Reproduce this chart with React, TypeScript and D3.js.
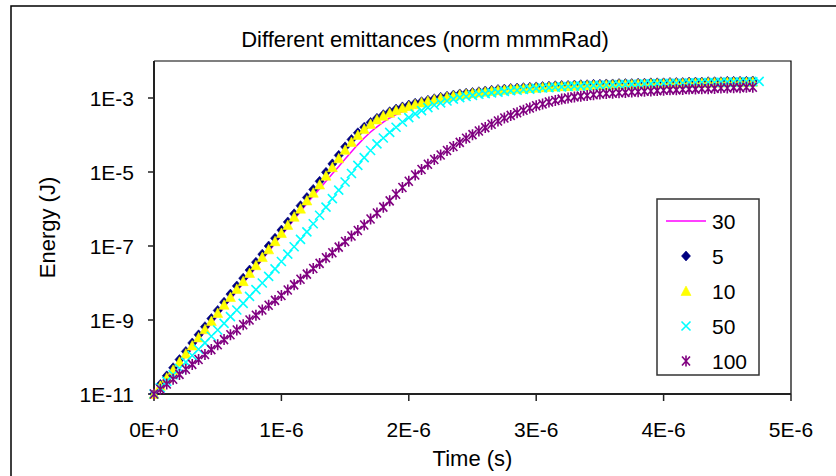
import * as d3 from "d3";

// time in microseconds (x axis shows seconds)
const timeUs = [
  0, 0.05, 0.1, 0.15, 0.2, 0.25, 0.3, 0.35, 0.4, 0.45, 0.5, 0.55, 0.6, 0.65, 0.7, 0.75, 0.8, 0.85, 0.9, 0.95,
  1, 1.05, 1.1, 1.15, 1.2, 1.25, 1.3, 1.35, 1.4, 1.45, 1.5, 1.55, 1.6, 1.65, 1.7, 1.75, 1.8, 1.85, 1.9, 1.95,
  2, 2.05, 2.1, 2.15, 2.2, 2.25, 2.3, 2.35, 2.4, 2.45, 2.5, 2.55, 2.6, 2.65, 2.7, 2.75, 2.8, 2.85, 2.9, 2.95,
  3, 3.05, 3.1, 3.15, 3.2, 3.25, 3.3, 3.35, 3.4, 3.45, 3.5, 3.55, 3.6, 3.65, 3.7, 3.75, 3.8, 3.85, 3.9, 3.95,
  4, 4.05, 4.1, 4.15, 4.2, 4.25, 4.3, 4.35, 4.4, 4.45, 4.5, 4.55, 4.6, 4.65, 4.7, 4.75,
];

// log10 of energy (J)
const logE30 = [
  -11.0, -10.82, -10.61, -10.4, -10.19, -9.97, -9.75, -9.53, -9.31, -9.09, -8.87, -8.65, -8.44, -8.22, -8.01, -7.79, -7.58, -7.36, -7.15, -6.93,
  -6.71, -6.5, -6.28, -6.07, -5.85, -5.65, -5.45, -5.25, -5.05, -4.85, -4.65, -4.45, -4.26, -4.08, -3.92, -3.78, -3.65, -3.54, -3.45, -3.37,
  -3.3, -3.24, -3.18, -3.13, -3.08, -3.04, -3.0, -2.96, -2.93, -2.9, -2.88, -2.86, -2.84, -2.82, -2.8, -2.79, -2.77, -2.76, -2.75, -2.74,
  -2.73, -2.72, -2.71, -2.7, -2.69, -2.69, -2.68, -2.67, -2.67, -2.66, -2.66, -2.65, -2.65, -2.64, -2.64, -2.64, -2.63, -2.63, -2.62, -2.62,
  -2.62, -2.61, -2.61, -2.61, -2.6, -2.6, -2.6, -2.59, -2.59, -2.59, -2.58, -2.58, -2.58, -2.58, -2.57,
];
const logE5 = [
  -11.0, -10.74, -10.51, -10.29, -10.07, -9.85, -9.62, -9.4, -9.18, -8.96, -8.74, -8.52, -8.3, -8.08, -7.87, -7.65, -7.44, -7.22, -7.0, -6.79,
  -6.57, -6.35, -6.13, -5.91, -5.69, -5.47, -5.25, -5.01, -4.78, -4.55, -4.32, -4.12, -3.94, -3.79, -3.66, -3.55, -3.45, -3.37, -3.3, -3.24,
  -3.19, -3.14, -3.1, -3.06, -3.02, -2.98, -2.95, -2.92, -2.89, -2.87, -2.85, -2.83, -2.81, -2.79, -2.77, -2.76, -2.74, -2.73, -2.72, -2.71,
  -2.7, -2.69, -2.68, -2.67, -2.66, -2.66, -2.65, -2.64, -2.64, -2.63, -2.63, -2.62, -2.62, -2.61, -2.61, -2.61, -2.6, -2.6, -2.59, -2.59,
  -2.59, -2.58, -2.58, -2.58, -2.57, -2.57, -2.57, -2.56, -2.56, -2.56, -2.55, -2.55, -2.55, -2.55, -2.54,
];
const logE10 = [
  -11.0, -10.78, -10.56, -10.35, -10.13, -9.91, -9.69, -9.47, -9.25, -9.03, -8.81, -8.59, -8.38, -8.16, -7.95, -7.73, -7.52, -7.3, -7.09, -6.87,
  -6.65, -6.43, -6.21, -5.99, -5.77, -5.56, -5.34, -5.1, -4.87, -4.63, -4.4, -4.19, -4.0, -3.84, -3.7, -3.58, -3.48, -3.4, -3.33, -3.27,
  -3.22, -3.17, -3.12, -3.08, -3.04, -3.0, -2.97, -2.94, -2.91, -2.89, -2.87, -2.85, -2.83, -2.81, -2.79, -2.78, -2.76, -2.75, -2.74, -2.73,
  -2.72, -2.71, -2.7, -2.69, -2.68, -2.68, -2.67, -2.66, -2.66, -2.65, -2.65, -2.64, -2.64, -2.63, -2.63, -2.63, -2.62, -2.62, -2.61, -2.61,
  -2.61, -2.6, -2.6, -2.6, -2.59, -2.59, -2.59, -2.58, -2.58, -2.58, -2.57, -2.57, -2.57, -2.57, -2.56,
];
const logE50 = [
  -11.0, -10.83, -10.66, -10.48, -10.31, -10.14, -9.96, -9.79, -9.62, -9.44, -9.27, -9.09, -8.91, -8.73, -8.55, -8.36, -8.18, -8.0, -7.82, -7.62,
  -7.42, -7.22, -7.02, -6.82, -6.62, -6.4, -6.17, -5.95, -5.72, -5.49, -5.27, -5.04, -4.82, -4.61, -4.42, -4.24, -4.08, -3.93, -3.79, -3.65,
  -3.53, -3.43, -3.34, -3.26, -3.19, -3.13, -3.08, -3.03, -2.99, -2.96, -2.93, -2.9, -2.88, -2.86, -2.84, -2.82, -2.8, -2.79, -2.77, -2.76,
  -2.74, -2.73, -2.72, -2.71, -2.7, -2.69, -2.68, -2.68, -2.67, -2.66, -2.66, -2.65, -2.65, -2.64, -2.64, -2.63, -2.63, -2.62, -2.62, -2.61,
  -2.61, -2.6, -2.6, -2.6, -2.59, -2.59, -2.58, -2.58, -2.58, -2.57, -2.57, -2.57, -2.56, -2.56, -2.56, -2.55,
];
const logE100 = [
  -11.0, -10.87, -10.73, -10.6, -10.47, -10.33, -10.2, -10.07, -9.93, -9.8, -9.67, -9.53, -9.4, -9.27, -9.13, -9.0, -8.87, -8.73, -8.6, -8.47,
  -8.34, -8.19, -8.05, -7.9, -7.76, -7.61, -7.47, -7.32, -7.18, -7.03, -6.88, -6.73, -6.58, -6.43, -6.27, -6.11, -5.95, -5.78, -5.6, -5.42,
  -5.25, -5.08, -4.93, -4.79, -4.66, -4.54, -4.42, -4.31, -4.2, -4.09, -3.99, -3.89, -3.8, -3.71, -3.62, -3.54, -3.47, -3.4, -3.33, -3.27,
  -3.21, -3.16, -3.11, -3.07, -3.03, -3.0, -2.97, -2.95, -2.93, -2.91, -2.89, -2.88, -2.87, -2.86, -2.85, -2.84, -2.83, -2.82, -2.81, -2.8,
  -2.79, -2.78, -2.78, -2.77, -2.76, -2.76, -2.75, -2.75, -2.74, -2.73, -2.73, -2.72, -2.72, -2.71, -2.71,
];

const xTicks = [0, 1, 2, 3, 4, 5];
const xTickLabels = ["0E+0", "1E-6", "2E-6", "3E-6", "4E-6", "5E-6"];
const yTicks = [1e-11, 1e-9, 1e-7, 1e-5, 1e-3];
const yTickLabels = ["1E-11", "1E-9", "1E-7", "1E-5", "1E-3"];
const legendNames = ["30", "5", "10", "50", "100"];
const legendKinds = ["line", "diamond", "triangle", "cross", "star"];
const colors = ["#FF00FF", "#000080", "#FFFF00", "#00FFFF", "#800080"];

const W = 836;
const H = 476;
const left = 154, right = 791, top = 61, bottom = 394;
const font = "Arial, 'Liberation Sans', sans-serif";

const x = d3.scaleLinear().domain([0, 5]).range([left, right]);
const y = d3.scaleLog().domain([1e-11, 1e-2]).range([bottom, top]);

const Marker = ({ kind, cx, cy, color }) => {
  if (kind === "diamond")
    return <path d={`M${cx},${cy - 5}L${cx + 4.5},${cy}L${cx},${cy + 5}L${cx - 4.5},${cy}Z`} fill={color} stroke={color} strokeWidth={0.6} />;
  if (kind === "triangle")
    return <path d={`M${cx},${cy - 5}L${cx + 5},${cy + 4.5}L${cx - 5},${cy + 4.5}Z`} fill={color} stroke={color} strokeWidth={0.6} />;
  if (kind === "cross")
    return <path d={`M${cx - 4.5},${cy - 4.5}L${cx + 4.5},${cy + 4.5}M${cx - 4.5},${cy + 4.5}L${cx + 4.5},${cy - 4.5}`} stroke={color} strokeWidth={1.6} fill="none" />;
  if (kind === "star")
    return <path d={`M${cx - 4},${cy - 4.5}L${cx + 4},${cy + 4.5}M${cx - 4},${cy + 4.5}L${cx + 4},${cy - 4.5}M${cx},${cy - 5.5}L${cx},${cy + 5.5}`} stroke={color} strokeWidth={1.6} fill="none" />;
  return null;
};

export default function App() {
  const series = [logE30, logE5, logE10, logE50, logE100];
  const line = d3.line<number>()
    .x((d, i) => x(timeUs[i]))
    .y(d => y(Math.pow(10, d)));

  return (
    <svg width={W} height={H} style={{ position: "absolute", left: 0, top: 0, background: "#fff" }} fontFamily={font}>
      <rect x={0} y={0} width={W} height={H} fill="#fff" />
      {/* chart area border (runs off the right/bottom) */}
      <rect x={11} y={6} width={W + 20} height={H + 20} fill="none" stroke="#000" strokeWidth={1.5} />

      <text x={425} y={47} textAnchor="middle" fontSize={22}>Different emittances (norm mmmRad)</text>

      {/* plot frame */}
      <path d={`M${left},${top}H${right}V${bottom}`} fill="none" stroke="#000" strokeWidth={1.2} />
      <line x1={left} x2={left} y1={top} y2={bottom} stroke="#222" strokeWidth={2} />
      <line x1={left} x2={right} y1={bottom} y2={bottom} stroke="#222" strokeWidth={2} />

      {xTicks.map((t, i) => (
        <g key={"xt" + i}>
          <line x1={x(t)} x2={x(t)} y1={bottom} y2={bottom + 7} stroke="#222" strokeWidth={1.5} />
          <text x={x(t)} y={437} textAnchor="middle" fontSize={21}>{xTickLabels[i]}</text>
        </g>
      ))}
      {yTicks.map((v, i) => (
        <g key={"yt" + i}>
          <line x1={left - 6} x2={left} y1={y(v)} y2={y(v)} stroke="#222" strokeWidth={1.5} />
          <text x={134} y={y(v) + 8} textAnchor="end" fontSize={21}>{yTickLabels[i]}</text>
        </g>
      ))}

      <text x={x(2.5)} y={466} textAnchor="middle" fontSize={22}>Time (s)</text>
      <text transform={`translate(55,${(top + bottom) / 2}) rotate(-90)`} textAnchor="middle" fontSize={22}>Energy (J)</text>

      {series.map((vals, s) =>
        legendKinds[s] === "line" ? (
          <path key={"s" + s} d={line(vals) || ""} fill="none" stroke={colors[s]} strokeWidth={1.5} />
        ) : (
          <g key={"s" + s}>
            {vals.map((v, i) => (
              <Marker key={i} kind={legendKinds[s]} cx={x(timeUs[i])} cy={y(Math.pow(10, v))} color={colors[s]} />
            ))}
          </g>
        )
      )}

      {/* legend */}
      <rect x={657} y={199} width={102} height={176} fill="#fff" stroke="#333" strokeWidth={1.5} />
      {legendNames.map((n, i) => {
        const ly = 221 + i * 35;
        return (
          <g key={"lg" + i}>
            {legendKinds[i] === "line" ? (
              <line x1={666} x2={706} y1={ly} y2={ly} stroke={colors[i]} strokeWidth={1.5} />
            ) : (
              <Marker kind={legendKinds[i]} cx={686} cy={ly} color={colors[i]} />
            )}
            <text x={712} y={ly + 8} fontSize={21}>{n}</text>
          </g>
        );
      })}
    </svg>
  );
}
